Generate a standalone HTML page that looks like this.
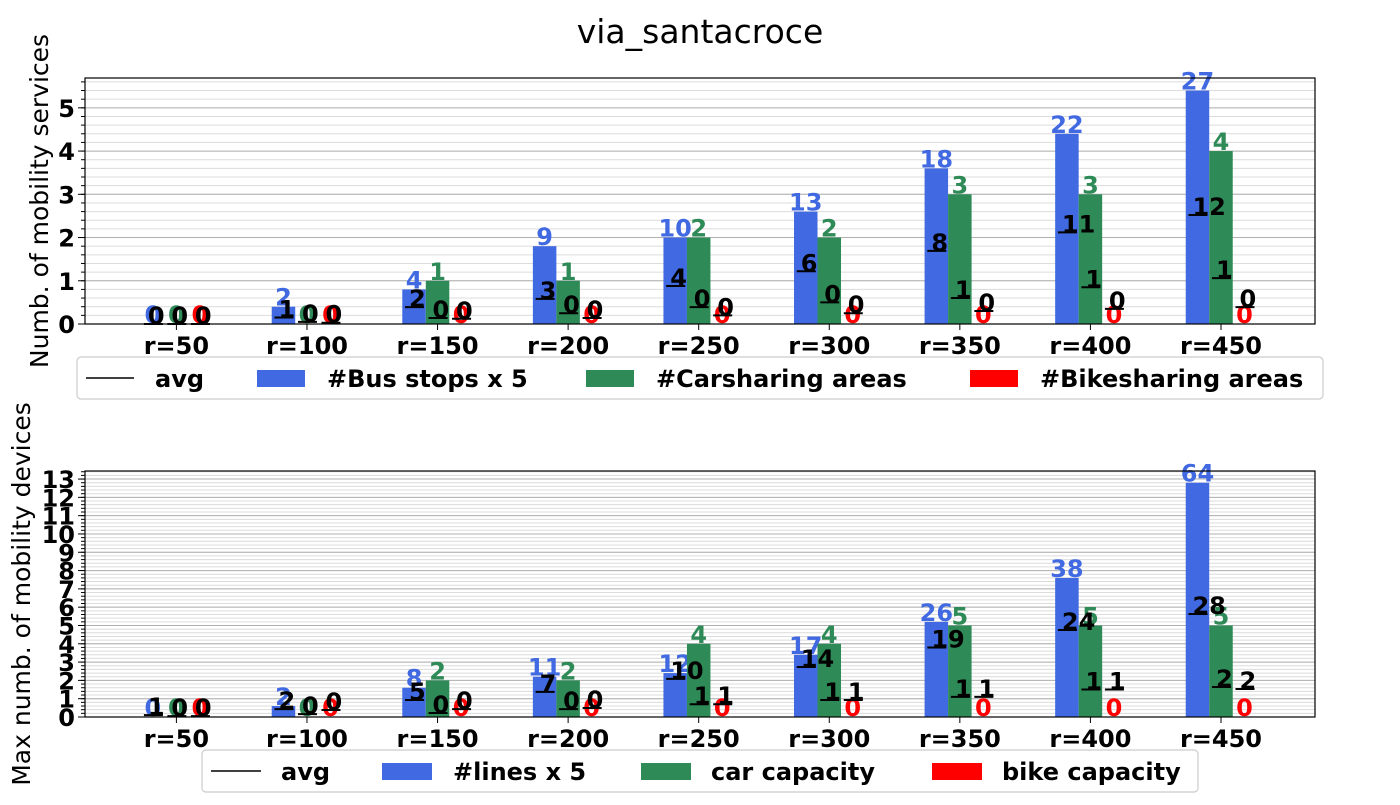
<!DOCTYPE html>
<html><head><meta charset="utf-8">
<style>
html,body{margin:0;padding:0;background:#fff;}
svg text{font-family:"DejaVu Sans","Liberation Sans",sans-serif;}
</style></head>
<body>
<svg id="chart" width="1400" height="800" xmlns="http://www.w3.org/2000/svg">
<text x="700" y="43" text-anchor="middle" font-size="33">via_santacroce</text>
</svg>
<script>
const categories = ["r=50","r=100","r=150","r=200","r=250","r=300","r=350","r=400","r=450"];
// top chart
const topBlue = [0,0.4,0.8,1.8,2,2.6,3.6,4.4,5.4];
const topBlueLabels = ["0","2","4","9","10","13","18","22","27"];
const topGreen = [0,0,1,1,2,2,3,3,4];
const topGreenLabels = ["0","0","1","1","2","2","3","3","4"];
const topRed = [0,0,0,0,0,0,0,0,0];
const topRedLabels = ["0","0","0","0","0","0","0","0","0"];
const topAvgBlue = [0,0.15,0.39,0.58,0.88,1.22,1.69,2.12,2.52];
const topAvgBlueLabels = ["0","1","2","3","4","6","8","11","12"];
const topAvgGreen = [0,0.05,0.14,0.25,0.39,0.5,0.6,0.85,1.06];
const topAvgGreenLabels = ["0","0","0","0","0","0","1","1","1"];
const topAvgRed = [0,0.03,0.12,0.14,0.2,0.25,0.3,0.35,0.39];
const topAvgRedLabels = ["0","0","0","0","0","0","0","0","0"];
const topYTicks = [0,1,2,3,4,5];
// bottom chart
const botBlue = [0,0.6,1.6,2.2,2.4,3.4,5.2,7.6,12.8];
const botBlueLabels = ["0","2","8","11","12","17","26","38","64"];
const botGreen = [0,0,2,2,4,4,5,5,5];
const botGreenLabels = ["0","0","2","2","4","4","5","5","5"];
const botRed = [0,0,0,0,0,0,0,0,0];
const botRedLabels = ["0","0","0","0","0","0","0","0","0"];
const botAvgBlue = [0.1,0.43,0.93,1.37,2.08,2.73,3.8,4.75,5.63];
const botAvgBlueLabels = ["1","2","5","7","10","14","19","24","28"];
const botAvgGreen = [0.05,0.16,0.22,0.43,0.7,0.93,1.1,1.5,1.64];
const botAvgGreenLabels = ["0","0","0","0","1","1","1","1","2"];
const botAvgRed = [0.05,0.38,0.43,0.49,0.7,0.93,1.1,1.5,1.53];
const botAvgRedLabels = ["0","0","0","0","1","1","1","1","2"];
const botYTicks = [0,1,2,3,4,5,6,7,8,9,10,11,12,13];

const NS="http://www.w3.org/2000/svg";
const svg=document.getElementById('chart');
function mk(tag,attrs,parent,text){const e=document.createElementNS(NS,tag);for(const k in attrs)e.setAttribute(k,attrs[k]);if(text!==undefined)e.textContent=text;(parent||svg).appendChild(e);return e;}
const BLUE="#4169e1",GREEN="#2e8b57",RED="#ff0000";
const X0=85,X1=1315,XMIN=-0.7,XMAX=8.72,BW=0.18;
const FS=24;
function xs(v){return X0+(v-XMIN)/(XMAX-XMIN)*(X1-X0);}

function panel(name,top,bottom,ymax,yticks,minorStep,blue,blueL,green,greenL,red,redL,aB,aBL,aG,aGL,aR,aRL,ylabel,ylx){
  const g=mk('g',{}, svg);
  
  
  const ys=v=>bottom-v/ymax*(bottom-top);
  for(let v=0;v<=ymax+1e-9;v+=minorStep){
    const l=mk('line',{x1:X0,x2:X1,y1:ys(v),y2:ys(v),stroke:'#dcdcdc','stroke-width':1},g);
    
    mk('line',{x1:X0-4,x2:X0,y1:ys(v),y2:ys(v),stroke:'#000','stroke-width':1},g);
  }
  yticks.forEach(t=>{
    const l=mk('line',{x1:X0,x2:X1,y1:ys(t),y2:ys(t),stroke:'#b0b0b0','stroke-width':1},g);
    
    mk('line',{x1:X0-7,x2:X0,y1:ys(t),y2:ys(t),stroke:'#000','stroke-width':1},g);
    const tx=mk('text',{x:X0-10,y:ys(t)+9,'text-anchor':'end','font-size':FS,'font-weight':'bold'},g,String(t));
    
  });
  const bwPx=BW*(X1-X0)/(XMAX-XMIN);
  const series=[[blue,blueL,BLUE,-BW,'bar-blue'],[green,greenL,GREEN,0,'bar-green'],[red,redL,RED,BW,'bar-red']];
  series.forEach(([vals,labs,col,off,nm])=>{
    vals.forEach((v,i)=>{
      const cx=xs(i+off);
      if(v>0){
        const r=mk('rect',{x:cx-bwPx/2,y:ys(v),width:bwPx,height:ys(0)-ys(v),fill:col},g);
        
      }
      const t=mk('text',{x:cx,y:ys(v)-1,'text-anchor':'middle','font-size':FS,'font-weight':'bold',fill:col},g,labs[i]);
      
    });
  });
  const avgs=[[aB,aBL,-BW],[aG,aGL,0],[aR,aRL,BW]];
  avgs.forEach(([vals,labs,off])=>{
    vals.forEach((v,i)=>{
      const cx=xs(i+off);
      const l=mk('line',{x1:cx-9,x2:cx+10,y1:ys(v),y2:ys(v),stroke:'#000','stroke-width':2},g);
      
      const t=mk('text',{x:cx-5,y:ys(v),'text-anchor':'start','font-size':FS,'font-weight':'bold',fill:'#000'},g,labs[i]);
      
    });
  });
  const f=mk('rect',{x:X0,y:top,width:X1-X0,height:bottom-top,fill:'none',stroke:'#000','stroke-width':1.2},g);
  
  categories.forEach((c,i)=>{
    mk('line',{x1:xs(i),x2:xs(i),y1:bottom,y2:bottom+6,stroke:'#000'},g);
    const t=mk('text',{x:xs(i),y:bottom+30,'text-anchor':'middle','font-size':FS,'font-weight':'bold'},g,c);
    
  });
  const yl=mk('text',{x:0,y:0,'text-anchor':'middle','font-size':25,transform:`translate(${ylx},${(top+bottom)/2}) rotate(-90)`},g,ylabel);
  
}
panel('top-panel',78,324,5.69,topYTicks,0.2,topBlue,topBlueLabels,topGreen,topGreenLabels,topRed,topRedLabels,topAvgBlue,topAvgBlueLabels,topAvgGreen,topAvgGreenLabels,topAvgRed,topAvgRedLabels,'Numb. of mobility services',48);
panel('bottom-panel',471,717,13.44,botYTicks,0.2,botBlue,botBlueLabels,botGreen,botGreenLabels,botRed,botRedLabels,botAvgBlue,botAvgBlueLabels,botAvgGreen,botAvgGreenLabels,botAvgRed,botAvgRedLabels,'Max numb. of mobility devices',30);

function legend(name,x,y,w,h,items){
  const g=mk('g',{},svg);
  
  
  mk('rect',{x:x,y:y,width:w,height:h,rx:4,fill:'#fff',stroke:'#cccccc','stroke-width':1.2},g);
  items.forEach(it=>{
    let m;
    if(it.line){m=mk('line',{x1:it.mx,x2:it.mx+it.mw,y1:y+h/2,y2:y+h/2,stroke:'#000','stroke-width':1.5},g);}
    else{m=mk('rect',{x:it.mx,y:y+h/2-8,width:it.mw,height:17,fill:it.col},g);}
    
    const t=mk('text',{x:it.tx,y:y+h/2+9,'font-size':FS,'font-weight':'bold'},g,it.label);
    
  });
}
legend('top-legend',77,357,1246,42,[
  {line:true,mx:86,mw:48,tx:155,label:'avg'},
  {col:BLUE,mx:257,mw:48,tx:327,label:'#Bus stops x 5'},
  {col:GREEN,mx:586,mw:48,tx:656,label:'#Carsharing areas'},
  {col:RED,mx:970,mw:48,tx:1040,label:'#Bikesharing areas'}]);
legend('bottom-legend',202,750,996,42,[
  {line:true,mx:211,mw:50,tx:281,label:'avg'},
  {col:BLUE,mx:382,mw:50,tx:453,label:'#lines x 5'},
  {col:GREEN,mx:641,mw:50,tx:711,label:'car capacity'},
  {col:RED,mx:932,mw:50,tx:1002,label:'bike capacity'}]);
</script>
</body></html>
